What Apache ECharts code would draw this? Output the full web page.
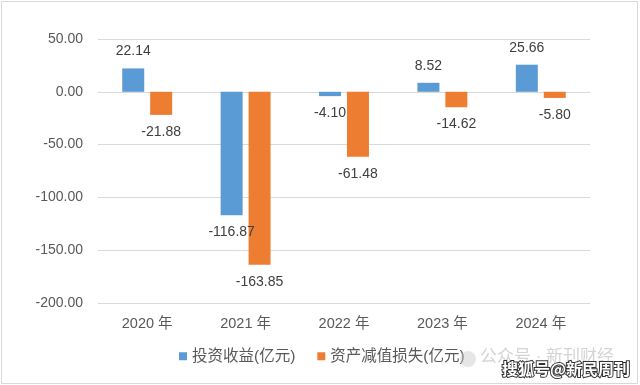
<!DOCTYPE html>
<html><head><meta charset="utf-8">
<script src="https://cdn.jsdelivr.net/npm/echarts@6/dist/echarts.min.js"></script>
<style>html,body{margin:0;padding:0;background:#fff}#c{width:640px;height:385px}</style>
</head><body><div id="c"></div>
<script>
const categories = ['2020 年','2021 年','2022 年','2023 年','2024 年'];
const investIncome = [22.14, -116.87, -4.10, 8.52, 25.66];
const impairmentLoss = [-21.88, -163.85, -61.48, -14.62, -5.80];
const seriesNames = ['投资收益(亿元)','资产减值损失(亿元)'];
const yTicks = {min: -200, max: 50, interval: 50};

const font = '"Liberation Sans","Noto Sans CJK SC",sans-serif';
const chart = echarts.init(document.getElementById('c'));
const lbl = {
  show: true, fontSize: 14, color: '#404040', fontFamily: font, distance: 10,
  formatter: p => p.value.toFixed(2)
};
function mk(name, data, color) {
  return {
    name, type: 'bar', data: data.map(v => ({value: v, label: {position: v >= 0 ? 'top' : 'bottom'}})),
    barWidth: 22, barGap: '27%',
    itemStyle: {color},
    label: lbl
  };
}
chart.setOption({
  animation: false,
  textStyle: {fontFamily: font},
  grid: {left: 98, right: 50, top: 39, bottom: 82, containLabel: false},
  legend: {
    bottom: 16, left: 174, itemWidth: 8, itemHeight: 8, itemGap: 22, icon: 'rect',
    textStyle: {fontSize: 15.5, color: '#595959', fontFamily: font},
    data: seriesNames
  },
  xAxis: {
    type: 'category', data: categories, position: 'bottom',
    axisLine: {show: false}, axisTick: {show: false},
    axisLabel: {color: '#595959', fontSize: 14.5, margin: 14, fontFamily: font}
  },
  yAxis: {
    type: 'value', min: yTicks.min, max: yTicks.max, interval: yTicks.interval,
    axisLine: {show: false}, axisTick: {show: false},
    splitLine: {lineStyle: {color: '#d9d9d9', width: 1}},
    axisLabel: {color: '#595959', fontSize: 14, margin: 15, fontFamily: font, formatter: v => v.toFixed(2)}
  },
  graphic: [
    {type: 'rect', shape: {x: 1.5, y: 1.5, width: 636, height: 382}, style: {fill: 'none', stroke: '#d9d9d9', lineWidth: 1}, silent: true},
    {type: 'circle', shape: {cx: 468, cy: 359, r: 8}, style: {fill: 'rgba(200,200,200,0.45)'}, z: 9},
    {type: 'text', left: 480, top: 349, style: {text: '公众号 · 新刊财经', fill: '#d4d4d4', fontSize: 17, fontFamily: font}, z: 10},
    {type: 'text', left: 501, top: 360, style: {text: '搜狐号@新民周刊', fill: '#ffffff', fontSize: 16, fontWeight: 'bold', fontFamily: '"Noto Sans CJK SC",sans-serif', stroke: '#333', lineWidth: 2}, z: 11}
  ],
  series: [mk(seriesNames[0], investIncome, '#5b9bd5'), mk(seriesNames[1], impairmentLoss, '#ed7d31')]
});
</script></body></html>
